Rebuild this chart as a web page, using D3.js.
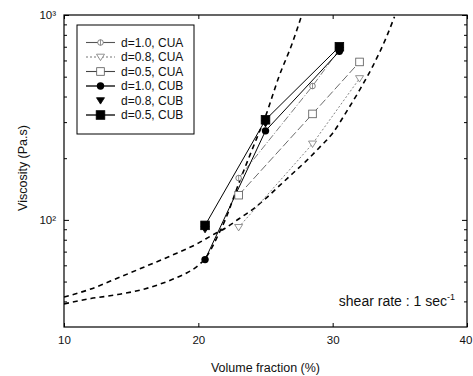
<!DOCTYPE html>
<html>
<head>
<meta charset="utf-8">
<script src="https://cdn.jsdelivr.net/npm/d3@7"></script>
<style>
  body { margin: 0; background: #fff; }
  text { font-family: "Liberation Sans", Arial, sans-serif; fill: #111; }
</style>
</head>
<body>
<div id="chart"></div>
<script>
// Data
const seriesNames = ['d=1.0, CUA', 'd=0.8, CUA', 'd=0.5, CUA', 'd=1.0, CUB', 'd=0.8, CUB', 'd=0.5, CUB'];
const cuaX = [23, 28.5, 32];
const cubX = [20.5, 25, 30.5];
const cua10X = [23, 28.5, 30.5];
const cua10Y = [160, 450, 680];
const cua08Y = [92, 235, 490];
const cua05Y = [132, 329, 590];
const cub10Y = [64, 272, 665];
const cub08Y = [90, 296, 675];
const cub05Y = [94, 308, 700];

// dashed fitted curves
const fitAX = [10, 12, 14, 16, 18, 20, 21, 22, 23, 24, 25, 26, 27, 28, 29, 30, 31, 32, 33, 34, 34.6];
const fitAY = [42, 46, 52, 59, 67, 77, 84, 91, 101, 112, 127, 146, 168, 193, 225, 265, 335, 430, 565, 780, 980];
const fitBX = [10, 12, 14, 16, 18, 19, 20, 20.6, 21, 21.5, 22, 23, 24, 25, 26, 27, 27.7];
const fitBY = [38.9, 41.3, 43.2, 46, 51, 54.5, 60, 66, 73, 85, 100, 150, 220, 320, 500, 730, 1000];

const xTicks = [10, 20, 30, 40];
const yMinor = [40, 50, 60, 70, 80, 90, 200, 300, 400, 500, 600, 700, 800, 900];
const yMajor = [100, 1000];
const yMajorLabels = ['10²', '10³'];

const width = 473, height = 376;
const x = d3.scaleLinear().domain([10, 40]).range([64, 467]);
const y = d3.scaleLog().domain([30, 1000]).range([327, 15]);

const svg = d3.select('#chart').append('svg')
  .attr('width', width)
  .attr('height', height);

// clip so curves stop at the frame
svg.append('clipPath').attr('id', 'clip')
  .append('rect')
  .attr('x', x(10)).attr('y', y(1000))
  .attr('width', x(40) - x(10)).attr('height', y(30) - y(1000));

// Axes
const xAxis = svg.append('g')
  .attr('transform', `translate(0,${y(30)})`)
  .call(d3.axisBottom(x).tickValues(xTicks).tickFormat(d3.format('d')).tickSize(-4).tickPadding(9));
xAxis.select('.domain').remove();
xAxis.selectAll('text').attr('font-size', 11.5)
  .attr('dx', d => d === 40 ? -1.5 : 0);

svg.append('g')
  .attr('transform', `translate(0,${y(1000)})`)
  .call(d3.axisTop(x).tickValues(xTicks).tickFormat('').tickSize(-4))
  .select('.domain').remove();

const yAxis = svg.append('g')
  .attr('transform', `translate(${x(10)},0)`)
  .call(d3.axisLeft(y).tickValues(yMajor).tickFormat((d, i) => yMajorLabels[i]).tickSize(-5).tickPadding(8));
yAxis.select('.domain').remove();
yAxis.selectAll('text').attr('font-size', 11.5);

svg.append('g')
  .attr('transform', `translate(${x(10)},0)`)
  .call(d3.axisLeft(y).tickValues(yMinor).tickFormat('').tickSize(-3))
  .select('.domain').remove();

svg.append('g')
  .attr('transform', `translate(${x(40)},0)`)
  .call(d3.axisRight(y).tickValues(yMajor).tickFormat('').tickSize(-5))
  .select('.domain').remove();
svg.append('g')
  .attr('transform', `translate(${x(40)},0)`)
  .call(d3.axisRight(y).tickValues(yMinor).tickFormat('').tickSize(-3))
  .select('.domain').remove();

// Frame
svg.append('rect')
  .attr('x', x(10)).attr('y', y(1000))
  .attr('width', x(40) - x(10)).attr('height', y(30) - y(1000))
  .attr('fill', 'none').attr('stroke', '#000').attr('stroke-width', 1.2);

// Axis titles
svg.append('text')
  .attr('x', (x(10) + x(40)) / 2).attr('y', 372)
  .attr('text-anchor', 'middle').attr('font-size', 12.5)
  .text('Volume fraction (%)');

svg.append('text')
  .attr('transform', 'translate(27,168) rotate(-90)')
  .attr('text-anchor', 'middle').attr('font-size', 12.5)
  .text('Viscosity (Pa.s)');

const plot = svg.append('g').attr('clip-path', 'url(#clip)');

// Fitted dashed curves
const fitLine = d3.line().x(d => x(d[0])).y(d => y(d[1])).curve(d3.curveMonotoneX);
[[fitAX, fitAY], [fitBX, fitBY]].forEach(([xs, ys]) => {
  plot.append('path')
    .datum(xs.map((v, i) => [v, ys[i]]))
    .attr('d', fitLine)
    .attr('fill', 'none')
    .attr('stroke', '#000')
    .attr('stroke-width', 1.6)
    .attr('stroke-dasharray', '5,4');
});

// Series styles
const series = [
  { name: seriesNames[0], xs: cua10X, ys: cua10Y, stroke: '#555', sw: 0.8, dash: '7,2,1,2', marker: 'circleCross' },
  { name: seriesNames[1], xs: cuaX, ys: cua08Y, stroke: '#777', sw: 0.9, dash: '2,2', marker: 'triOpen' },
  { name: seriesNames[2], xs: cuaX, ys: cua05Y, stroke: '#444', sw: 0.8, dash: '8,3', marker: 'squareOpen' },
  { name: seriesNames[3], xs: cubX, ys: cub10Y, stroke: '#000', sw: 1, dash: null, marker: 'circleFill' },
  { name: seriesNames[4], xs: cubX, ys: cub08Y, stroke: null, sw: 0, dash: null, marker: 'triFill' },
  { name: seriesNames[5], xs: cubX, ys: cub05Y, stroke: '#000', sw: 1, dash: null, marker: 'squareFill' }
];

function drawMarker(g, type, cx, cy) {
  if (type === 'circleCross') {
    g.append('circle').attr('cx', cx).attr('cy', cy).attr('r', 2.8)
      .attr('fill', '#fff').attr('stroke', '#666').attr('stroke-width', 0.8);
    g.append('line').attr('x1', cx).attr('x2', cx).attr('y1', cy - 2.8).attr('y2', cy + 2.8)
      .attr('stroke', '#666').attr('stroke-width', 0.7);
  } else if (type === 'triOpen' || type === 'triFill') {
    const s = 4;
    g.append('path')
      .attr('d', `M${cx - s},${cy - s * 0.7}L${cx + s},${cy - s * 0.7}L${cx},${cy + s * 0.9}Z`)
      .attr('fill', type === 'triFill' ? '#000' : '#fff')
      .attr('stroke', type === 'triFill' ? '#000' : '#777').attr('stroke-width', 0.8);
  } else if (type === 'squareOpen' || type === 'squareFill') {
    const s = type === 'squareFill' ? 4.3 : 3.8;
    g.append('rect').attr('x', cx - s).attr('y', cy - s).attr('width', 2 * s).attr('height', 2 * s)
      .attr('fill', type === 'squareFill' ? '#000' : '#fff')
      .attr('stroke', type === 'squareFill' ? '#000' : '#555').attr('stroke-width', 0.8);
  } else if (type === 'circleFill') {
    g.append('circle').attr('cx', cx).attr('cy', cy).attr('r', 3.7).attr('fill', '#000');
  }
}

const line = d3.line().x(d => x(d[0])).y(d => y(d[1]));
series.forEach(s => {
  const pts = s.xs.map((v, i) => [v, s.ys[i]]);
  if (s.stroke) {
    plot.append('path')
      .datum(pts)
      .attr('d', line)
      .attr('fill', 'none')
      .attr('stroke', s.stroke)
      .attr('stroke-width', s.sw)
      .attr('stroke-dasharray', s.dash);
  }
});
// markers, CUA first then CUB on top
series.forEach(s => {
  const g = svg.append('g');
  s.xs.forEach((v, i) => drawMarker(g, s.marker, x(v), y(s.ys[i])));
});

// Legend
const legend = svg.append('g');
legend.append('rect')
  .attr('x', 77).attr('y', 25).attr('width', 117).attr('height', 109)
  .attr('fill', '#fff').attr('stroke', '#000').attr('stroke-width', 1);
series.forEach((s, i) => {
  const ly = 42.5 + i * 14.5;
  if (s.stroke) {
    legend.append('line')
      .attr('x1', 86).attr('x2', 115).attr('y1', ly).attr('y2', ly)
      .attr('stroke', s.stroke).attr('stroke-width', s.sw + 0.3)
      .attr('stroke-dasharray', s.name === seriesNames[1] ? '2,2' : null);
  }
  drawMarker(legend, s.marker, 100.5, ly);
  legend.append('text')
    .attr('x', 121).attr('y', ly + 4.2)
    .attr('font-size', 12)
    .text(s.name);
});

// Annotation
const ann = svg.append('text')
  .attr('x', 455).attr('y', 306)
  .attr('text-anchor', 'end').attr('font-size', 14);
ann.append('tspan').text('shear rate : 1 sec');
ann.append('tspan').attr('dy', -6).attr('font-size', 9).text('-1');
</script>
</body>
</html>
